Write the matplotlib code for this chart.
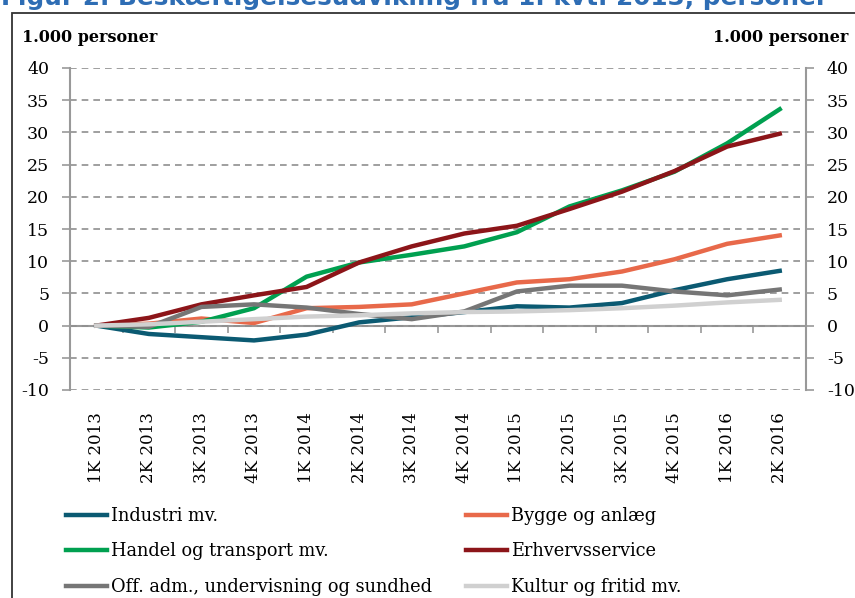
import numpy as np
import matplotlib
matplotlib.use("Agg")
import matplotlib.pyplot as plt
from matplotlib.patches import Rectangle

plt.rcParams["axes.unicode_minus"] = False

quarters = ["1K 2013", "2K 2013", "3K 2013", "4K 2013",
            "1K 2014", "2K 2014", "3K 2014", "4K 2014",
            "1K 2015", "2K 2015", "3K 2015", "4K 2015",
            "1K 2016", "2K 2016"]

industri = [0, -1.3, -1.8, -2.3, -1.4, 0.5, 1.3, 2.1, 3.0, 2.8, 3.5, 5.5, 7.2, 8.5]
bygge = [0, 0.3, 1.1, 0.4, 2.7, 2.9, 3.3, 5.0, 6.7, 7.2, 8.4, 10.3, 12.7, 14.0]
handel = [0, -0.3, 0.6, 2.7, 7.6, 9.8, 11.0, 12.3, 14.5, 18.5, 21.0, 23.9, 28.3, 33.6]
erhverv = [0, 1.2, 3.3, 4.7, 6.0, 9.8, 12.3, 14.3, 15.5, 18.1, 20.8, 24.0, 27.8, 29.8]
offentlig = [0, -0.2, 2.9, 3.3, 2.8, 1.8, 1.0, 2.2, 5.3, 6.2, 6.2, 5.3, 4.7, 5.6]
kultur = [0, 0.2, 0.6, 1.0, 1.4, 1.6, 1.9, 2.1, 2.2, 2.4, 2.7, 3.1, 3.6, 4.0]

title = "Figur 2. Beskæftigelsesudvikling fra 1. kvt. 2013, personer"
unit = "1.000 personer"

serif = "DejaVu Serif"
grey = "#999999"

fig = plt.figure(figsize=(8.55, 5.98), dpi=100)
ax = fig.add_axes([70 / 855, 1 - 390 / 598, 736 / 855, 322 / 598])

x = np.arange(len(quarters))
l_ind, = ax.plot(x, industri, color="#0B5A72", lw=3.2, label="Industri mv.")
l_byg, = ax.plot(x, bygge, color="#E8694A", lw=3.2, label="Bygge og anlæg")
l_han, = ax.plot(x, handel, color="#00A050", lw=3.2, label="Handel og transport mv.")
l_erh, = ax.plot(x, erhverv, color="#8C1519", lw=3.2, label="Erhvervsservice")
l_off, = ax.plot(x, offentlig, color="#767676", lw=3.2, label="Off. adm., undervisning og sundhed")
l_kul, = ax.plot(x, kultur, color="#D0D0D0", lw=3.2, label="Kultur og fritid mv.")

ax.set_xlim(-0.5, len(quarters) - 0.5)
ax.set_ylim(-10, 40)
ax.set_yticks(np.arange(-10, 41, 5))
ax.yaxis.grid(True, linestyle=(0, (4, 3)), color="#8f8f8f", lw=1.2)
ax.set_axisbelow(True)

for s in ["top", "bottom"]:
    ax.spines[s].set_visible(False)
for s in ["left", "right"]:
    ax.spines[s].set_color(grey)
    ax.spines[s].set_linewidth(1.5)

ax.tick_params(axis="y", left=True, right=True, labelleft=True, labelright=True,
               length=6, width=1.2, color=grey, pad=9, labelsize=12.5)
for lab in ax.get_yticklabels():
    lab.set_family(serif)

ax.set_xticks(x)
ax.set_xticklabels(quarters, rotation=90, family=serif, fontsize=12)
ax.tick_params(axis="x", length=0, pad=16)

# zero line with category separators
sec = ax.secondary_xaxis(0.2)
sec.set_xticks(np.arange(0.5, len(quarters) - 0.5, 1))
sec.tick_params(axis="x", direction="out", length=5, width=1.2, color=grey, labelbottom=False)
sec.spines["bottom"].set_color(grey)
sec.spines["bottom"].set_linewidth(1.5)

fig.text(22 / 855, 1 - 42 / 598, unit, family=serif, weight="bold", fontsize=11.5, va="baseline")
fig.text(848 / 855, 1 - 42 / 598, unit, family=serif, weight="bold", fontsize=11.5,
         va="baseline", ha="right")

fig.text(1 / 855, 1 - 5 / 598, title, color="#2E6DB4", weight="bold", fontsize=17.8, va="baseline")
fig.add_artist(Rectangle((12 / 855, -0.1), 1.0, 1.1 - 13 / 598, transform=fig.transFigure,
                         fill=False, ec="#333333", lw=1.3))

handles = [l_ind, l_han, l_off, l_byg, l_erh, l_kul]
fig.legend(handles=handles, labels=[h.get_label() for h in handles], ncol=2,
           loc="upper left", bbox_to_anchor=(66 / 855, 1 - 507 / 598), frameon=False,
           prop={"family": serif, "size": 12.8}, handlelength=2.3, handletextpad=0.25,
           labelspacing=0.98, columnspacing=1.9, borderaxespad=0, borderpad=0)

fig.savefig("out.png", dpi=100)
